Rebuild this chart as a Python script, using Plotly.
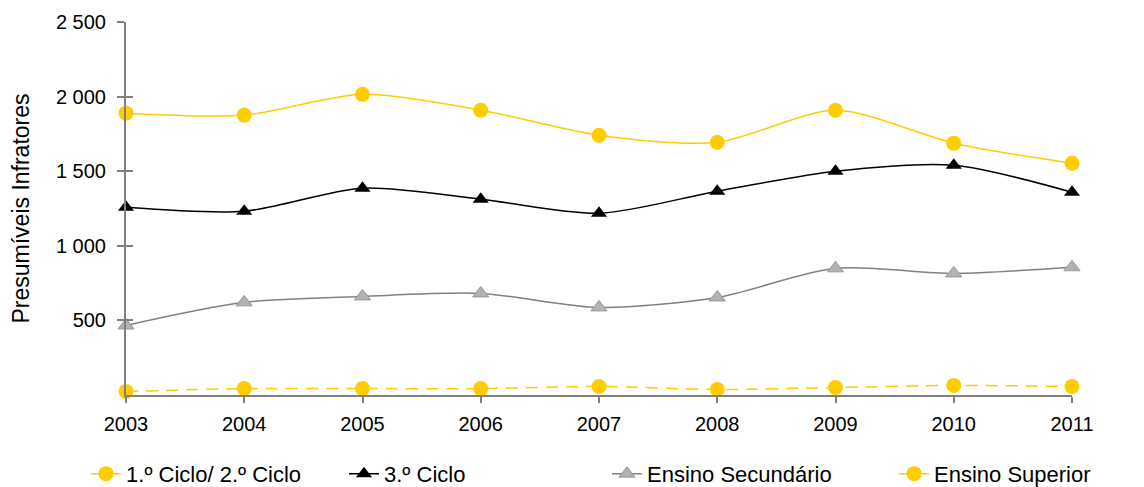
import plotly.graph_objects as go

years = [2003, 2004, 2005, 2006, 2007, 2008, 2009, 2010, 2011]
ciclo12 = [1889, 1876, 2015, 1909, 1741, 1694, 1909, 1688, 1553]
ciclo3 = [1258, 1232, 1386, 1312, 1218, 1366, 1500, 1540, 1359]
secundario = [466, 621, 661, 681, 587, 654, 849, 815, 856]
superior = [23, 43, 43, 43, 57, 37, 50, 64, 57]
names = ["1.º Ciclo/ 2.º Ciclo", "3.º Ciclo", "Ensino Secundário", "Ensino Superior"]
y_ticks = [500, 1000, 1500, 2000, 2500]
y_title = "Presumíveis Infratores"

fig = go.Figure()
fig.add_trace(go.Scatter(x=years, y=ciclo12, name=names[0], mode="lines+markers", legend="legend",
                         line=dict(color="#FFCC00", width=1.5, shape="spline", smoothing=0.8),
                         marker=dict(symbol="circle", size=15, color="#FFCC00"), cliponaxis=False))
fig.add_trace(go.Scatter(x=years, y=ciclo3, name=names[1], mode="lines+markers", legend="legend2",
                         line=dict(color="#000000", width=1.5, shape="spline", smoothing=0.8),
                         marker=dict(symbol="triangle-up", size=14, color="#000000"), cliponaxis=False))
fig.add_trace(go.Scatter(x=years, y=secundario, name=names[2], mode="lines+markers", legend="legend3",
                         line=dict(color="#808080", width=1.5, shape="spline", smoothing=0.8),
                         marker=dict(symbol="triangle-up", size=14, color="#B2B2B2",
                                     line=dict(color="#999999", width=1)), cliponaxis=False))
fig.add_trace(go.Scatter(x=years, y=superior, name=names[3], mode="lines+markers", legend="legend4",
                         line=dict(color="#FFCC00", width=1.5, dash="12px,8px", shape="spline", smoothing=0.8),
                         marker=dict(symbol="circle", size=15, color="#FFCC00"), cliponaxis=False))
fig.add_trace(go.Scatter(x=[years[0]], y=[None], yaxis="y2", showlegend=False, hoverinfo="skip"))

font = "Liberation Sans, Arial, sans-serif"
leg_common = dict(orientation="h", xref="container", yref="container", y=0.027, yanchor="middle",
                  xanchor="left", font=dict(size=22), bgcolor="rgba(0,0,0,0)")
fig.update_layout(
    width=1144, height=487,
    margin=dict(l=126, r=72, t=22, b=92, autoexpand=False),
    paper_bgcolor="white", plot_bgcolor="white",
    separators=", ",
    font=dict(family=font, size=20, color="#000000"),
    xaxis=dict(range=[2003, 2011], tickvals=years, showgrid=False, zeroline=False,
               showline=True, linecolor="#808080", linewidth=2,
               ticks="outside", ticklen=6, tickcolor="#808080", tickwidth=2,
               tickfont=dict(size=20), ticklabelstandoff=4, automargin=False),
    yaxis=dict(range=[0, 2500], tickvals=y_ticks, tickformat=",d", showgrid=False, zeroline=False,
               showline=True, linecolor="#808080", linewidth=2,
               ticks="outside", ticklen=7, tickcolor="#808080", tickwidth=2,
               tickfont=dict(size=20), ticklabelstandoff=7, automargin=False,
               title=dict(text=y_title, font=dict(size=23), standoff=20)),
    yaxis2=dict(range=[0, 2500], overlaying="y", tickvals=y_ticks, showticklabels=False,
                showgrid=False, zeroline=False, showline=False,
                ticks="inside", ticklen=7, tickcolor="#808080", tickwidth=2),
    legend=dict(x=0.0752, **leg_common),
    legend2=dict(x=0.3007, **leg_common),
    legend3=dict(x=0.5306, **leg_common),
    legend4=dict(x=0.7815, **leg_common),
    showlegend=True,
)
fig.write_html("out.html", config={"displayModeBar": False},
               post_script="document.body.style.margin='0';")
